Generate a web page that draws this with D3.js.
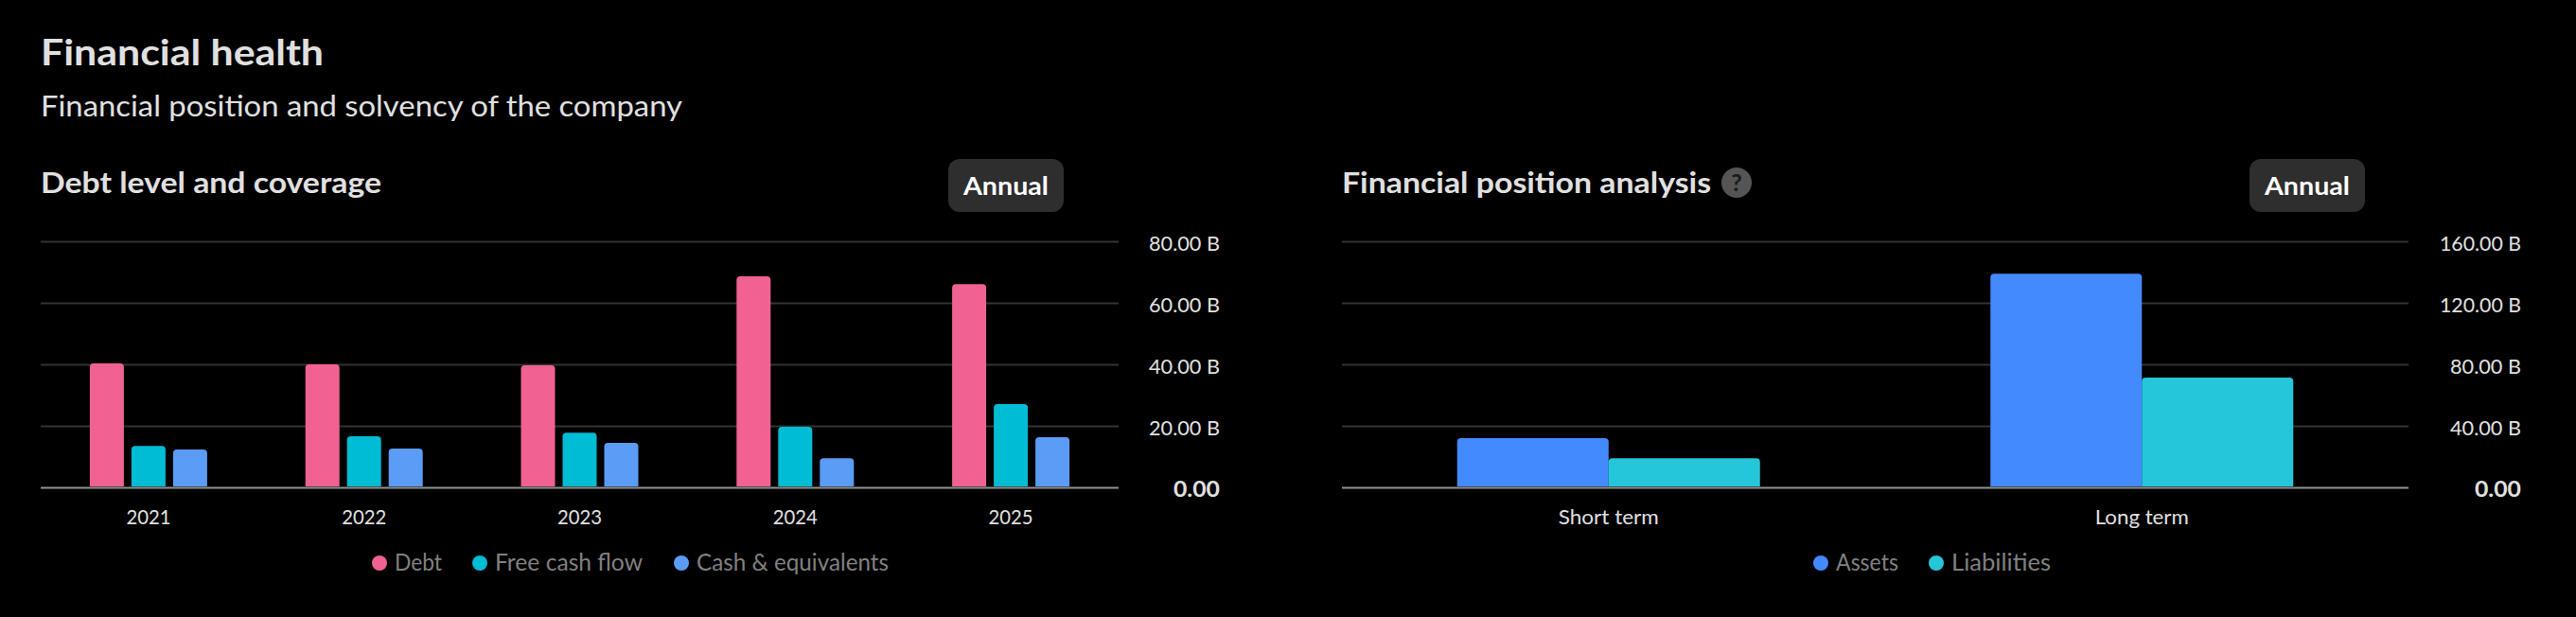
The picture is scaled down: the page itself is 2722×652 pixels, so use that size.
<!DOCTYPE html>
<html>
<head>
<meta charset="utf-8">
<script src="https://cdn.jsdelivr.net/npm/d3@7"></script>
<style>
html,body{margin:0;padding:0;background:#000;overflow:hidden;}
svg{display:block;}
text{font-family:Lato,"Open Sans","Noto Sans",sans-serif;}
</style>
</head>
<body>
<svg id="c" width="2722" height="652"></svg>
<script>
const years = ["2021","2022","2023","2024","2025"];
const debt = [40.3, 40, 39.7, 68.6, 66.1];
const freeCashFlow = [13.5, 16.6, 17.8, 19.7, 27.1];
const cashEquivalents = [12.3, 12.6, 14.5, 9.5, 16.3];
const debtSeriesNames = ["Debt","Free cash flow","Cash & equivalents"];
const debtColors = ["#f06292","#00bcd4","#5b9cf6"];
const debtTicks = [0,20,40,60,80];

const terms = ["Short term","Long term"];
const assets = [32, 139];
const liabilities = [19, 71.4];
const posSeriesNames = ["Assets","Liabilities"];
const posColors = ["#448aff","#26c6da"];
const posTicks = [0,40,80,120,160];

const svg = d3.select("#c");
const fmt = v => v === 0 ? "0.00" : d3.format(".2f")(v) + " B";
const fit = (sel,w) => sel.attr("textLength",w).attr("lengthAdjust","spacingAndGlyphs");

fit(svg.append("text").attr("x",43).attr("y",69).attr("fill","#e0e0e0").attr("font-size",38).attr("font-weight",700).text("Financial health"),299);
fit(svg.append("text").attr("x",43).attr("y",123).attr("fill","#e0e0e0").attr("font-size",30).text("Financial position and solvency of the company"),678);

function panel(o){
  const y = d3.scaleLinear().domain([0,o.max]).range([515,255]);
  const x0 = d3.scaleBand().domain(o.cats).range([o.left,o.right]);
  const cx = c => x0(c)+x0.bandwidth()/2;
  const g = svg.append("g");
  fit(g.append("text").attr("x",o.left).attr("y",204).attr("fill","#e0e0e0").attr("font-size",30).attr("font-weight",700).text(o.title),o.titleW);

  const axis = d3.axisRight(y).tickValues(o.ticks).tickSize(-(o.right-o.left)).tickPadding(0).tickFormat(fmt);
  const ag = g.append("g").attr("transform",`translate(${o.right},0)`).call(axis);
  ag.select(".domain").remove();
  ag.selectAll("line").attr("stroke",d=>d===0?"#929292":"#333").attr("stroke-width",2);
  ag.selectAll("text").attr("x",o.labelRight-o.right).attr("text-anchor","end").attr("dy","9px").attr("fill","#e0e0e0").attr("font-size",22).attr("font-weight",d=>d===0?700:400)
    .attr("textLength",d=>d===0?49:o.tickW(d)).attr("lengthAdjust","spacingAndGlyphs");

  const n = o.series.length;
  const total = n*o.barW+(n-1)*o.gap;
  o.series.forEach((vals,si)=>{
    g.selectAll(null).data(o.cats).join("path")
      .attr("fill",o.colors[si])
      .attr("d",(c,i)=>{
        const l = cx(c)-total/2+si*(o.barW+o.gap), w=o.barW, t=y(vals[i]), b=y(0)-1, r=4;
        return `M${l},${b}V${t+r}Q${l},${t} ${l+r},${t}H${l+w-r}Q${l+w},${t} ${l+w},${t+r}V${b}Z`;
      });
  });

  g.selectAll(null).data(o.cats).join("text")
    .attr("x",c=>cx(c)).attr("y",554).attr("text-anchor","middle").attr("fill","#e0e0e0").attr("font-size",22).text(c=>c)
    .attr("textLength",(c,i)=>o.catW[i]).attr("lengthAdjust","spacingAndGlyphs");

  g.append("rect").attr("x",o.btnX).attr("y",168).attr("width",122).attr("height",56).attr("rx",12).attr("fill","#2e2e2e");
  fit(g.append("text").attr("x",o.btnX+16).attr("y",206).attr("fill","#fff").attr("font-size",27).attr("font-weight",700).text("Annual"),90);

  o.names.forEach((nm,i)=>{
    g.append("circle").attr("cx",o.legendX[i]).attr("cy",595).attr("r",8).attr("fill",o.colors[i]);
    fit(g.append("text").attr("x",o.legendX[i]+16).attr("y",603).attr("fill","#808080").attr("font-size",25).text(nm),o.legendW[i]);
  });
}

panel({title:"Debt level and coverage",titleW:360,cats:years,catW:[47,47,47,47,47],series:[debt,freeCashFlow,cashEquivalents],colors:debtColors,names:debtSeriesNames,
  max:80,ticks:debtTicks,tickW:()=>75,left:43,right:1182,labelRight:1289,barW:36,gap:8,btnX:1002,legendX:[401,507,720],legendW:[50,156,203]});
panel({title:"Financial position analysis",titleW:390,cats:terms,catW:[106,99],series:[assets,liabilities],colors:posColors,names:posSeriesNames,
  max:160,ticks:posTicks,tickW:d=>d>=100?86:75,left:1418,right:2545,labelRight:2664,barW:160,gap:0,btnX:2377,legendX:[1924,2046],legendW:[66,105]});

svg.append("circle").attr("cx",1835).attr("cy",193).attr("r",16).attr("fill","#555");
svg.append("text").attr("x",1835).attr("y",202).attr("text-anchor","middle").attr("fill","#1a1a1a").attr("font-size",25).attr("font-weight",700).text("?");
</script>
</body>
</html>
